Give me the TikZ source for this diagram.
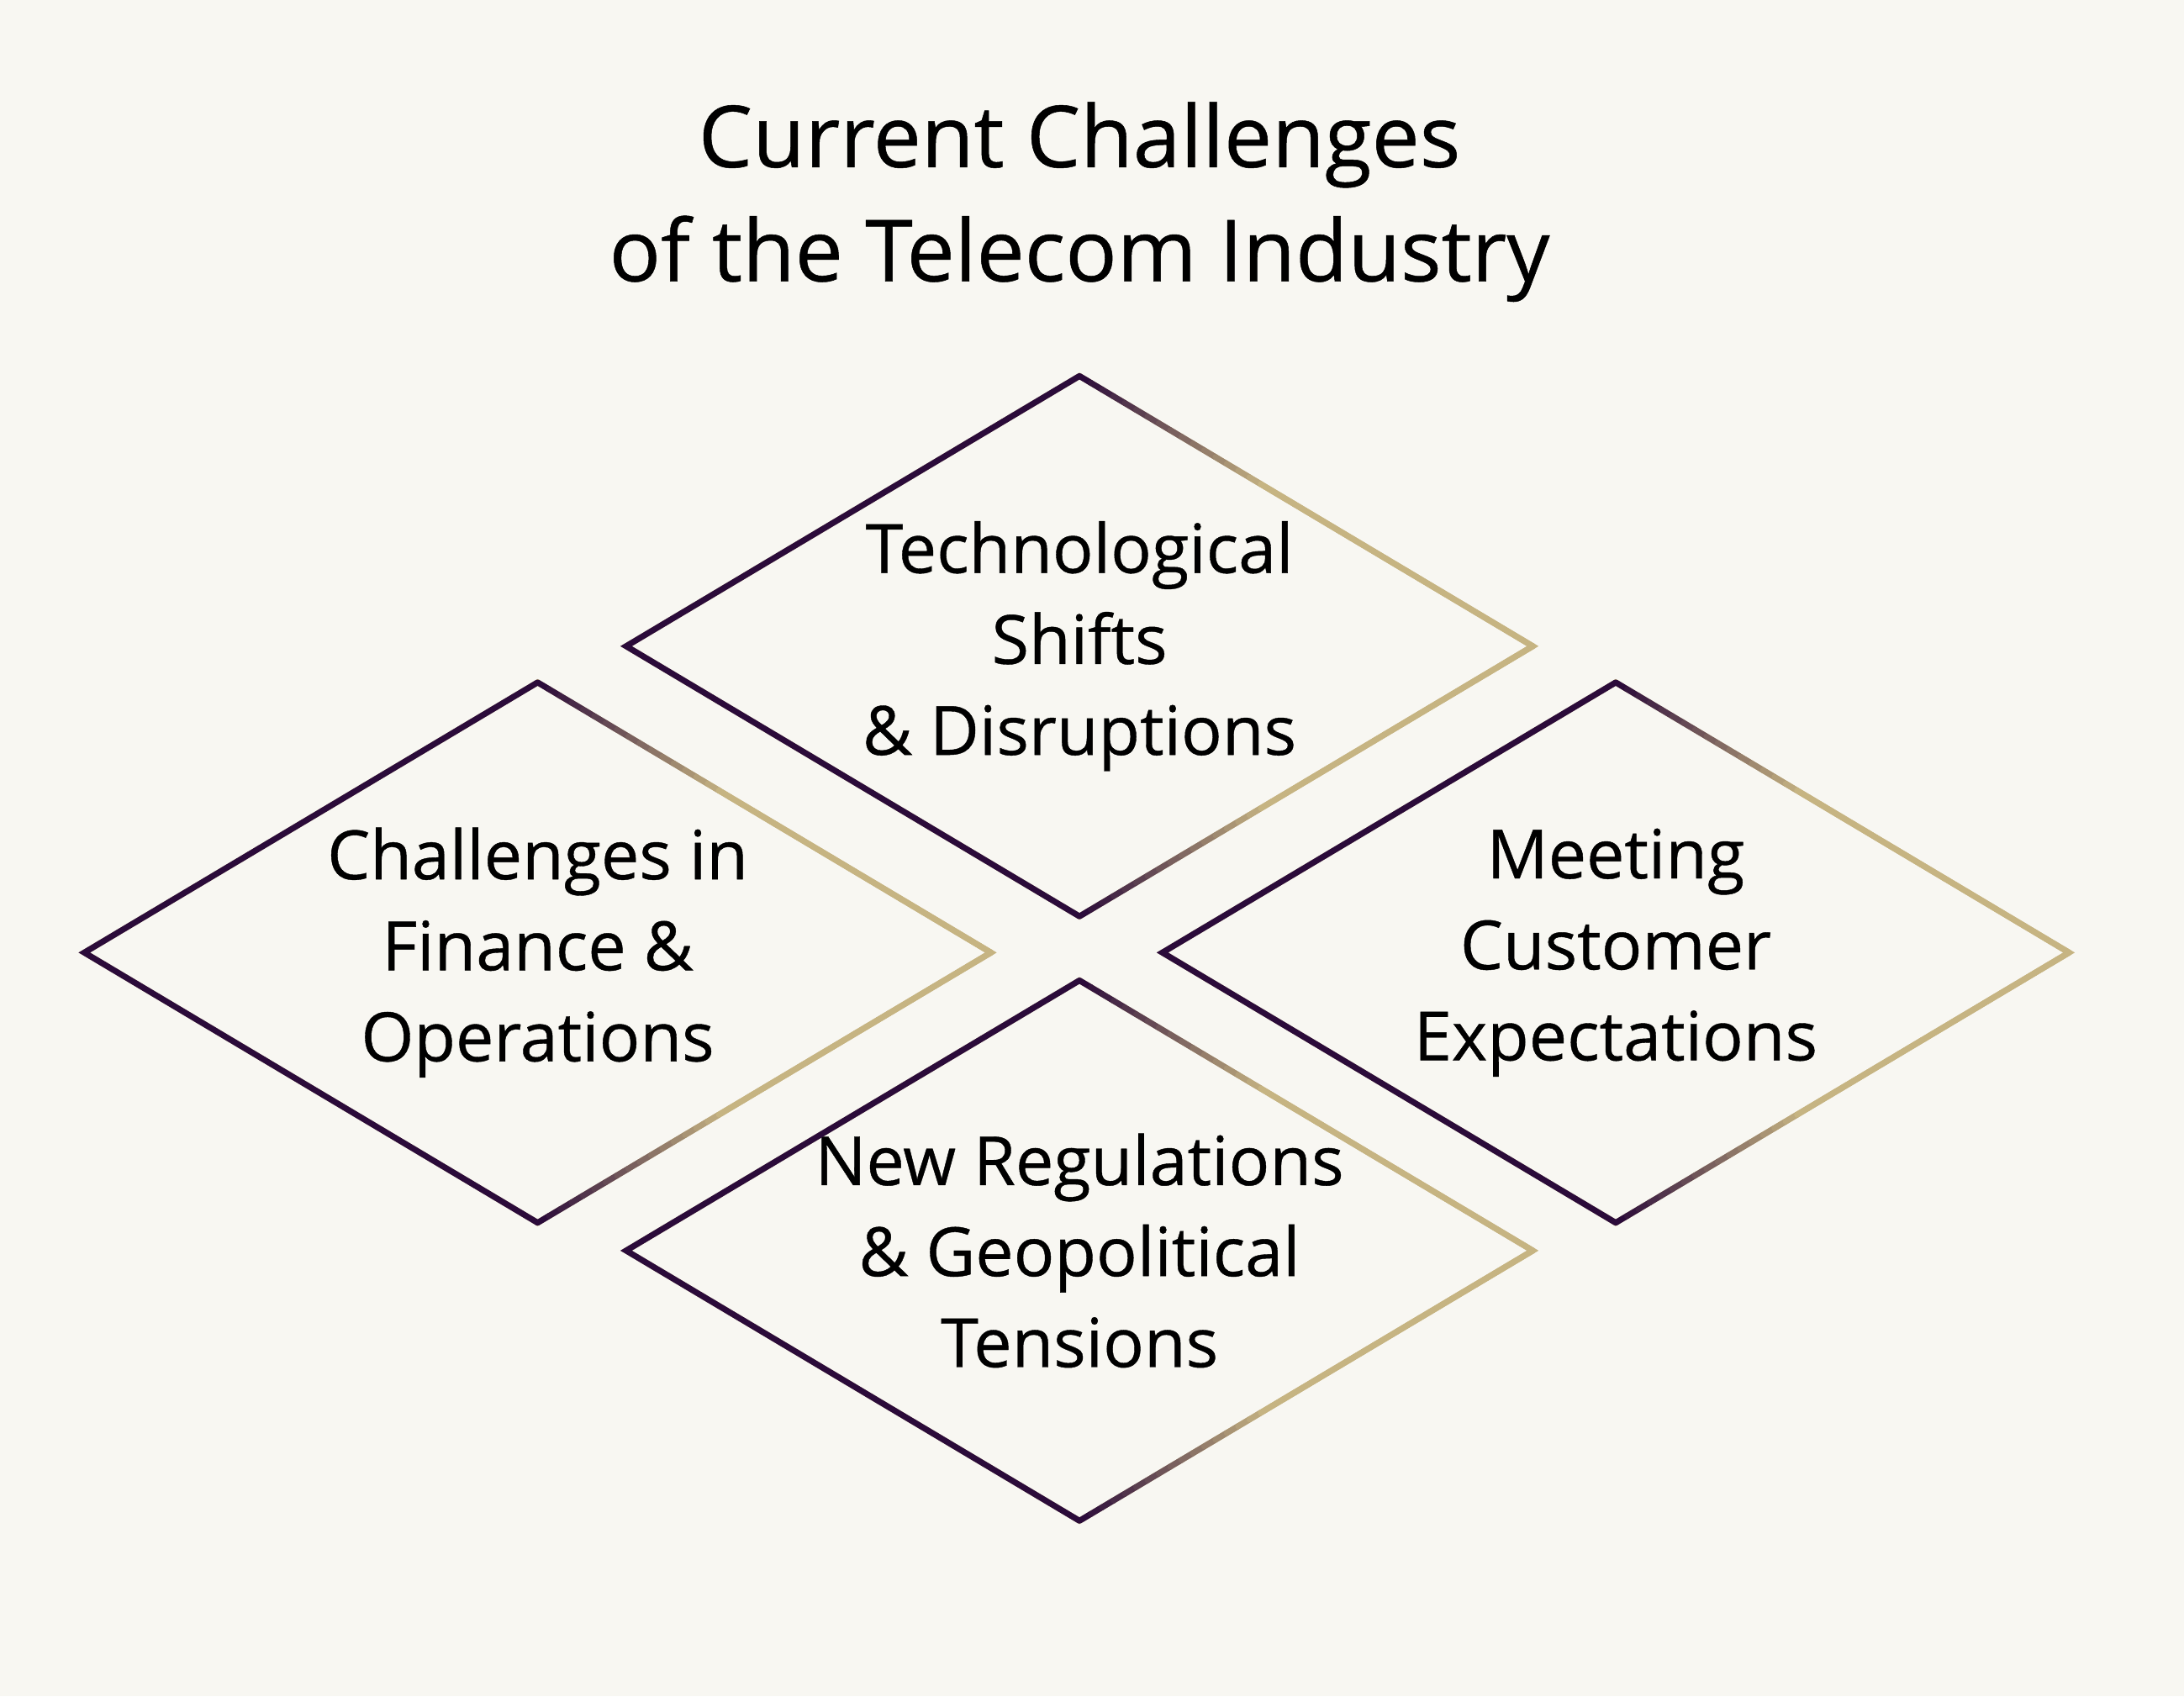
\documentclass[tikz,border=0pt]{standalone}
\usepackage{fontspec}
\setmainfont{Open Sans}[FakeBold=0.5,AutoFakeBold=0.5]
\usetikzlibrary{shapes.geometric,calc}

\definecolor{plum}{HTML}{2B0B3A}
\definecolor{sand}{HTML}{C6B482}
\definecolor{paper}{HTML}{F8F7F2}

\begin{document}
\begin{tikzpicture}[x=0.016569cm,y=-0.016569cm,
		gem_style/.style={diamond,draw=sand,line width=2pt,outer sep=0pt,inner sep=0pt,
			minimum width=10.786cm,minimum height=6.429cm},
		gem_text/.style={align=center,text=black,font=\fontsize{23}{30.8}\selectfont\bfseries},
		title_style/.style={align=center,text=black,font=\fontsize{29}{38.6}\selectfont\bfseries},
		edge_style/.style={line width=2pt,line cap=round}]
		
		\fill[paper] (0,0) rectangle (1568,1218);
		
		\node[title_style] (title) at (775,145) {Current Challenges\\of the Telecom Industry};
		
		\node[gem_style,label={[gem_text]center:Technological\\Shifts\\ \& Disruptions}] (tech) at (775,464) {};
		\node[gem_style,label={[gem_text]center:Challenges in\\Finance \&\\Operations}] (fin) at (386,684) {};
		\node[gem_style,label={[gem_text]center:Meeting\\Customer\\Expectations}] (cust) at (1160,684) {};
		\node[gem_style,label={[gem_text]center:New Regulations\\\& Geopolitical\\Tensions}] (reg) at (775,898) {};
		
		% left-hand edges plum, right-hand edges fade from plum into sand
		\foreach \n in {tech,fin,cust,reg}{
			\draw[line width=2pt,draw=plum] (\n.south) -- (\n.west) -- (\n.north);
			\foreach \i in {0,...,39}{
				\pgfmathsetmacro\ta{\i/40}
				\pgfmathsetmacro\tb{(\i+1)/40}
				\pgfmathsetmacro\mix{max(0,100-6.25*\i)}
				\draw[edge_style,draw=plum!\mix!sand] ($(\n.north)!\ta!(\n.east)$) -- ($(\n.north)!\tb!(\n.east)$);
				\draw[edge_style,draw=plum!\mix!sand] ($(\n.south)!\ta!(\n.east)$) -- ($(\n.south)!\tb!(\n.east)$);
			}
		}
		
\end{tikzpicture}
\end{document}
